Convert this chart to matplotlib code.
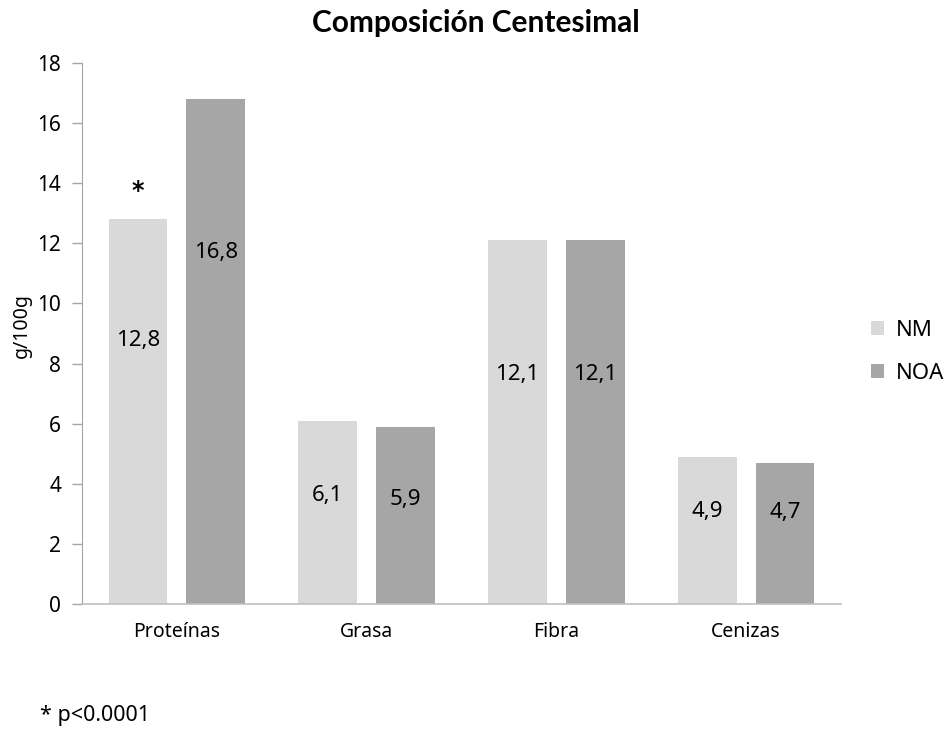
import matplotlib
matplotlib.use("Agg")
import matplotlib.pyplot as plt
import numpy as np

categories = ["Proteínas", "Grasa", "Fibra", "Cenizas"]
series_names = ["NM", "NOA"]
nm_values = [12.8, 6.1, 12.1, 4.9]
noa_values = [16.8, 5.9, 12.1, 4.7]
y_ticks = [0, 2, 4, 6, 8, 10, 12, 14, 16, 18]

colors = ["#D9D9D9", "#A6A6A6"]
# where each value label sits inside its bar (fraction of bar height)
label_frac_nm = [0.686, 0.59, 0.63, 0.625]
label_frac_noa = [0.697, 0.59, 0.63, 0.65]

plt.rcParams["font.family"] = ["Noto Sans", "DejaVu Sans"]

fig = plt.figure(figsize=(9.46, 7.33), dpi=100)
ax = fig.add_axes([82 / 946, 1 - 604 / 733, (841 - 82) / 946, (604 - 63) / 733])

x = np.arange(len(categories))
width = 0.31
offset = 0.205

ax.bar(x - offset, nm_values, width, color=colors[0], label=series_names[0], zorder=2)
ax.bar(x + offset, noa_values, width, color=colors[1], label=series_names[1], zorder=2)

for i in range(len(categories)):
    v1, v2 = nm_values[i], noa_values[i]
    ax.text(x[i] - offset, v1 * label_frac_nm[i], f"{v1:.1f}".replace(".", ","),
            ha="center", va="center", fontsize=16, color="black", zorder=3)
    ax.text(x[i] + offset, v2 * label_frac_noa[i], f"{v2:.1f}".replace(".", ","),
            ha="center", va="center", fontsize=16, color="black", zorder=3)

# significance marker on protein content
ax.text(x[0] - offset, nm_values[0] + 0.95, "*", ha="center", va="center",
        fontsize=17, fontweight="bold", family=["DejaVu Sans"])

ax.set_xlim(-0.5, len(categories) - 0.5)
ax.set_ylim(0, 18)
ax.set_yticks(y_ticks)
ax.set_yticklabels([str(t) for t in y_ticks], fontsize=15)
ax.set_xticks(x)
ax.set_xticklabels(categories, fontsize=14)
ax.tick_params(axis="x", length=0, pad=13)
ax.tick_params(axis="y", length=7, width=1, color="#A6A6A6", pad=8)

for side in ["top", "right"]:
    ax.spines[side].set_visible(False)
ax.spines["left"].set_color("#A6A6A6")
ax.spines["bottom"].set_color("#BFBFBF")
ax.spines["bottom"].set_linewidth(1.2)

fig.text(22 / 946, 1 - 326 / 733, "g/100g", rotation=90, ha="center", va="center",
         fontsize=14)

fig.text(476 / 946, 1 - 23 / 733, "Composición Centesimal", ha="center", va="center",
         fontsize=21.5, fontweight="bold", family=["Lato", "DejaVu Sans"])

leg = ax.legend(loc="center left", bbox_to_anchor=(871 / 946, 1 - 352 / 733),
                bbox_transform=fig.transFigure, frameon=False, fontsize=16,
                handlelength=0.6, handleheight=0.6, handletextpad=0.5,
                labelspacing=1.0, borderpad=0, borderaxespad=0)

fig.text(40 / 946, 1 - 715 / 733, "* p<0.0001", ha="left", va="center", fontsize=15.5)

fig.savefig("out.png", dpi=100, facecolor="white")
